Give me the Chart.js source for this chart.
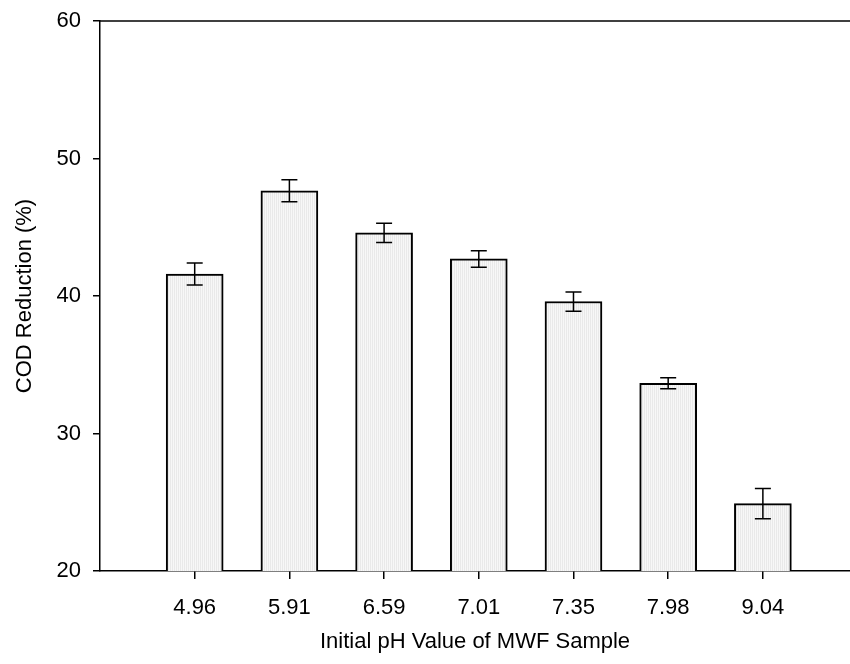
<!DOCTYPE html>
<html>
<head>
<meta charset="utf-8">
<script src="https://cdn.jsdelivr.net/npm/chart.js@4.4.0/dist/chart.umd.min.js"></script>
<style>
  body { margin: 0; background: #fff; }
  #wrap { width: 850px; height: 664px; }
</style>
</head>
<body>
<div id="wrap"><canvas id="codChart"></canvas></div>
<script>
// Data
const phLabels = ["4.96", "5.91", "6.59", "7.01", "7.35", "7.98", "9.04"];
const codValues = [41.6, 47.65, 44.6, 42.7, 39.6, 33.65, 24.9];
const codErrors = [0.8, 0.8, 0.7, 0.6, 0.7, 0.4, 1.1];

// fine vertical stripe fill like the original
function stripeFill() {
    const c = document.createElement("canvas");
    c.width = 2; c.height = 1;
    const g = c.getContext("2d");
    g.fillStyle = "#f7f7f7"; g.fillRect(0, 0, 2, 1);
    g.fillStyle = "#e9e9e9"; g.fillRect(0, 0, 1, 1);
    return g.createPattern(c, "repeat");
}

// error bars + top frame line
const errorBars = {
    id: "errorBars",
    afterDatasetsDraw(chart) {
        const ctx = chart.ctx;
        const y = chart.scales.y;
        const meta = chart.getDatasetMeta(0);
        ctx.save();
        ctx.strokeStyle = "#000";
        ctx.lineWidth = 1.5;
        meta.data.forEach((bar, i) => {
            const top = y.getPixelForValue(codValues[i] + codErrors[i]);
            const bot = y.getPixelForValue(codValues[i] - codErrors[i]);
            ctx.beginPath();
            ctx.moveTo(bar.x, top); ctx.lineTo(bar.x, bot);
            ctx.moveTo(bar.x - 8, top); ctx.lineTo(bar.x + 8, top);
            ctx.moveTo(bar.x - 8, bot); ctx.lineTo(bar.x + 8, bot);
            ctx.stroke();
        });
        const a = chart.chartArea;
        ctx.beginPath();
        ctx.moveTo(a.left, a.top); ctx.lineTo(a.right, a.top);
        ctx.stroke();
        ctx.restore();
    }
};

Chart.defaults.font.family = "'Liberation Sans', Arial, sans-serif";
Chart.defaults.font.size = 22;
Chart.defaults.color = "#000";

const ctx = document.getElementById("codChart").getContext("2d");
new Chart(ctx, {
    type: "bar",
    data: {
        datasets: [{
            data: codValues.map((v, i) => ({ x: i, y: v })),
            backgroundColor: stripeFill(),
            borderColor: "#000",
            borderWidth: 2,
            borderSkipped: false,
            barThickness: 57
        }]
    },
    options: {
        responsive: true,
        maintainAspectRatio: false,
        animation: false,
        layout: { padding: { top: 21, right: 0, left: 0, bottom: 0 } },
        plugins: { legend: { display: false }, tooltip: { enabled: false } },
        scales: {
            x: {
                type: "linear",
                min: -1,
                max: 6.92,
                offset: false,
                afterBuildTicks: s => { s.ticks = phLabels.map((_, i) => ({ value: i })); },
                afterFit: s => { s.height = 93; s.paddingLeft = 0; s.paddingRight = 0; },
                ticks: { callback: v => phLabels[v], padding: 16, maxRotation: 0 },
                grid: { offset: false, drawOnChartArea: false, drawTicks: true, tickLength: 8, color: "#000", lineWidth: 1.5 },
                border: { color: "#000", width: 1.5 },
                title: { display: true, text: "Initial pH Value of MWF Sample", padding: { top: 10, bottom: 9 } }
            },
            y: {
                min: 20,
                max: 60,
                afterFit: s => { s.width = 100; s.paddingTop = 0; s.paddingBottom = 0; },
                ticks: { stepSize: 10, padding: 12 },
                grid: { drawOnChartArea: false, drawTicks: true, tickLength: 7, color: "#000", lineWidth: 1.5 },
                border: { color: "#000", width: 1.5 },
                title: { display: true, text: "COD Reduction (%)", padding: { top: 12, bottom: 4 } }
            }
        }
    },
    plugins: [errorBars]
});
</script>
</body>
</html>
